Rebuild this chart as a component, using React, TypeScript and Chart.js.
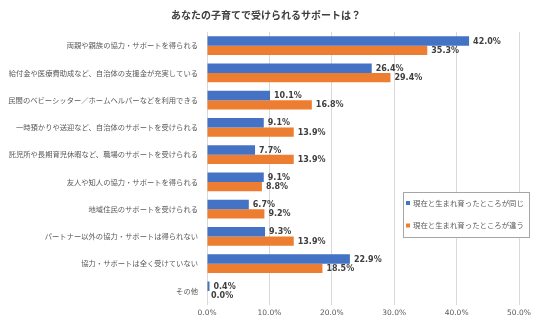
import React, { useEffect, useRef } from "react";
import { Chart, registerables } from "chart.js";

Chart.register(...registerables);

const TITLE = "あなたの子育てで受けられるサポートは？";
const categories = [
  "両親や親族の協力・サポートを得られる",
  "給付金や医療費助成など、自治体の支援金が充実している",
  "民間のベビーシッター／ホームヘルパーなどを利用できる",
  "一時預かりや送迎など、自治体のサポートを受けられる",
  "託児所や長期育児休暇など、職場のサポートを受けられる",
  "友人や知人の協力・サポートを得られる",
  "地域住民のサポートを受けられる",
  "パートナー以外の協力・サポートは得られない",
  "協力・サポートは全く受けていない",
  "その他",
];
const seriesNames = ["現在と生まれ育ったところが同じ", "現在と生まれ育ったところが違う"];
const sameValues = [42.0, 26.4, 10.1, 9.1, 7.7, 9.1, 6.7, 9.3, 22.9, 0.4];
const diffValues = [35.3, 29.4, 16.8, 13.9, 13.9, 8.8, 9.2, 13.9, 18.5, 0.0];
const xTicks = [0, 10, 20, 30, 40, 50];
const colors = ["#4472C4", "#ED7D31"];

const JP = "'Noto Sans CJK JP', sans-serif";
const NUM = "'DejaVu Sans', 'Noto Sans CJK JP', sans-serif";

const extrasPlugin = {
  id: "extras",
  afterDatasetsDraw(chart: any) {
    const ctx = chart.ctx;
    ctx.save();
    // data labels
    ctx.font = `bold 8px ${NUM}`;
    ctx.fillStyle = "#404040";
    ctx.textBaseline = "middle";
    ctx.textAlign = "left";
    chart.data.datasets.forEach((ds: any, i: number) => {
      const meta = chart.getDatasetMeta(i);
      meta.data.forEach((el: any, j: number) => {
        const v = ds.data[j] as number;
        ctx.fillText(`${v.toFixed(1)}%`, el.x + 4, el.y + 0.5);
      });
    });
    // title
    ctx.font = `bold 10px ${JP}`;
    ctx.fillStyle = "#404040";
    ctx.textAlign = "center";
    ctx.fillText(TITLE, 266, 15);
    // legend
    const lx = 403.5, ly = 192.5, lw = 126, lh = 45;
    ctx.fillStyle = "#FFFFFF";
    ctx.fillRect(lx, ly, lw, lh);
    ctx.strokeStyle = "#A6A6A6";
    ctx.lineWidth = 1;
    ctx.strokeRect(lx, ly, lw, lh);
    ctx.font = `7.4px ${JP}`;
    ctx.textAlign = "left";
    seriesNames.forEach((name, i) => {
      const cy = 203 + i * 22.5;
      ctx.fillStyle = colors[i];
      ctx.fillRect(406, cy - 2, 4, 4);
      ctx.fillStyle = "#595959";
      ctx.fillText(name, 413, cy);
    });
    ctx.restore();
  },
};

export default function App() {
  const ref = useRef<HTMLCanvasElement>(null);
  useEffect(() => {
    if (!ref.current) return;
    const chart = new Chart(ref.current, {
      type: "bar",
      data: {
        labels: categories,
        datasets: [
          { label: seriesNames[0], data: sameValues, backgroundColor: colors[0], categoryPercentage: 0.68, barPercentage: 1.0 },
          { label: seriesNames[1], data: diffValues, backgroundColor: colors[1], categoryPercentage: 0.68, barPercentage: 1.0 },
        ],
      },
      options: {
        indexAxis: "y",
        responsive: false,
        animation: false,
        layout: { padding: { top: 32, right: 17, left: 0, bottom: 0 } },
        plugins: { legend: { display: false }, title: { display: false }, tooltip: { enabled: false } },
        scales: {
          x: {
            min: 0,
            max: 50,
            afterBuildTicks: (s: any) => { s.ticks = xTicks.map((v) => ({ value: v })); },
            afterFit: (s: any) => { s.height = 17.5; },
            ticks: {
              callback: (v: any) => `${Number(v).toFixed(1)}%`,
              font: { size: 7.5, family: NUM },
              color: "#595959",
              padding: 4,
              maxRotation: 0,
            },
            grid: { color: "#D9D9D9", drawTicks: false },
            border: { display: false },
          },
          y: {
            afterFit: (s: any) => { s.width = 207; },
            ticks: { font: { size: 7.3, family: JP }, color: "#595959", padding: 9, autoSkip: false },
            grid: { display: false, drawTicks: false },
            border: { display: false },
          },
        },
      },
      plugins: [extrasPlugin],
    } as any);
    return () => chart.destroy();
  }, []);
  return (
    <div style={{ position: "absolute", left: 0, top: 0, width: 536, height: 322, background: "#fff" }}>
      <canvas ref={ref} width={536} height={322} />
    </div>
  );
}
